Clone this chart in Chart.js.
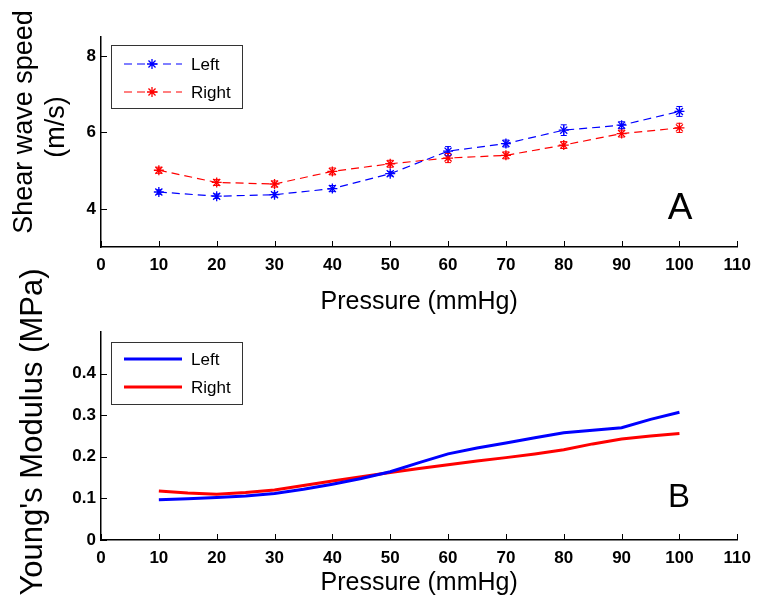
<!DOCTYPE html>
<html>
<head>
<meta charset="utf-8">
<script src="https://cdn.jsdelivr.net/npm/chart.js@4.4.4/dist/chart.umd.min.js"></script>
<style>
  html, body { margin: 0; padding: 0; background: #fff; }
  body { width: 759px; height: 604px; position: relative; overflow: hidden; }
  canvas { position: absolute; left: 0; }
  #chartA { top: 0; }
  #chartB { top: 260px; }
</style>
</head>
<body>
<canvas id="chartA" width="759" height="320"></canvas>
<canvas id="chartB" width="759" height="344"></canvas>
<script>
// panel A: shear wave speed (m/s) with error bars
const pressure = [10, 20, 30, 40, 50, 60, 70, 80, 90, 100]
const speedLeft = [4.44, 4.33, 4.37, 4.53, 4.92, 5.51, 5.71, 6.06, 6.19, 6.55]
const speedRight = [5.01, 4.69, 4.65, 4.98, 5.18, 5.33, 5.40, 5.67, 5.97, 6.12]
const speedLeftErr = [0.06, 0.06, 0.06, 0.08, 0.06, 0.12, 0.09, 0.14, 0.09, 0.13]
const speedRightErr = [0.08, 0.08, 0.08, 0.09, 0.09, 0.12, 0.09, 0.09, 0.09, 0.12]

// panel B: Young's modulus (MPa)
const modulusPressure = [10, 15, 20, 25, 30, 35, 40, 45, 50, 55, 60, 65, 70, 75, 80, 85, 90, 95, 100]
const modulusLeft = [0.097, 0.099, 0.102, 0.106, 0.112, 0.122, 0.134, 0.148, 0.164, 0.186, 0.207, 0.221, 0.233, 0.246, 0.258, 0.264, 0.270, 0.290, 0.307]
const modulusRight = [0.118, 0.113, 0.110, 0.114, 0.120, 0.131, 0.142, 0.152, 0.162, 0.172, 0.181, 0.190, 0.198, 0.207, 0.217, 0.231, 0.243, 0.250, 0.256]

const xTicks = [0, 10, 20, 30, 40, 50, 60, 70, 80, 90, 100, 110]
const speedTicks = [4, 6, 8]
const modulusTicks = [0, 0.1, 0.2, 0.3, 0.4]

const FONT = "'Liberation Sans', Arial, sans-serif"

const toPoints = (xs, ys) => xs.map((x, i) => ({ x: x, y: ys[i] }))

// small tick marks pointing into the plot
const inwardTicks = {
    id: 'inwardTicks',
    afterDraw(chart) {
        const { ctx, chartArea, scales } = chart
        ctx.save()
        ctx.strokeStyle = '#000'
        ctx.lineWidth = 1
        ctx.beginPath()
        scales.x.ticks.forEach(t => {
            const px = Math.round(scales.x.getPixelForValue(t.value)) + 0.5
            ctx.moveTo(px, chartArea.bottom)
            ctx.lineTo(px, chartArea.bottom - 6)
        })
        scales.y.ticks.forEach(t => {
            const py = Math.round(scales.y.getPixelForValue(t.value)) + 0.5
            ctx.moveTo(chartArea.left, py)
            ctx.lineTo(chartArea.left + 6, py)
        })
        ctx.stroke()
        ctx.restore()
    }
}

const errorBars = {
    id: 'errorBars',
    afterDatasetsDraw(chart) {
        const { ctx, scales } = chart
        chart.data.datasets.forEach(ds => {
            if (!ds.errors) return
            ctx.save()
            ctx.strokeStyle = ds.borderColor
            ctx.lineWidth = 1
            ctx.beginPath()
            ds.data.forEach((p, i) => {
                const px = scales.x.getPixelForValue(p.x)
                const top = scales.y.getPixelForValue(p.y + ds.errors[i])
                const bot = scales.y.getPixelForValue(p.y - ds.errors[i])
                ctx.moveTo(px, top); ctx.lineTo(px, bot)
                ctx.moveTo(px - 3, top); ctx.lineTo(px + 3, top)
                ctx.moveTo(px - 3, bot); ctx.lineTo(px + 3, bot)
            })
            ctx.stroke()
            ctx.restore()
        })
    }
}

// boxed legend in the upper left + rotated axis titles + panel letter
const panelDecor = {
    id: 'panelDecor',
    afterDraw(chart, args, opts) {
        const ctx = chart.ctx
        ctx.save()
        ctx.fillStyle = '#000'
        ctx.textBaseline = 'middle'

        opts.yTitle.forEach(t => {
            ctx.save()
            ctx.translate(t.x, t.y)
            ctx.rotate(-Math.PI / 2)
            ctx.textAlign = 'center'
            ctx.font = t.size + 'px ' + FONT
            ctx.fillText(t.text, 0, 0)
            ctx.restore()
        })

        ctx.textAlign = 'center'
        ctx.font = opts.letter.size + 'px ' + FONT
        ctx.fillText(opts.letter.text, opts.letter.x, opts.letter.y)

        const lg = opts.legend
        ctx.strokeStyle = '#333'
        ctx.lineWidth = 1
        ctx.strokeRect(lg.left + 0.5, lg.top + 0.5, lg.width, lg.height)
        ctx.font = '17px ' + FONT
        ctx.textAlign = 'left'
        chart.data.datasets.forEach((ds, i) => {
            const y = lg.rows[i]
            ctx.strokeStyle = ds.borderColor
            ctx.lineWidth = ds.borderWidth
            ctx.setLineDash(ds.borderDash || [])
            ctx.beginPath()
            ctx.moveTo(lg.left + 13, y)
            ctx.lineTo(lg.left + 71, y)
            ctx.stroke()
            ctx.setLineDash([])
            if (ds.pointRadius > 0) {
                ctx.lineWidth = ds.pointBorderWidth
                Chart.helpers.drawPoint(ctx, { pointStyle: ds.pointStyle, radius: ds.pointRadius, borderWidth: ds.pointBorderWidth, rotation: 0 }, lg.left + 41, y)
            }
            ctx.fillStyle = '#000'
            ctx.fillText(ds.label, lg.left + 80, y + 1)
        })
        ctx.restore()
    }
}

function scalesFor(yMin, yMax, yTicks, xHeight, titlePad, yLabel) {
    return {
        x: {
            type: 'linear',
            min: 0,
            max: 110,
            afterBuildTicks: s => { s.ticks = xTicks.map(v => ({ value: v })) },
            afterFit: s => { s.height = xHeight },
            border: { display: true, color: '#000', width: 1.5 },
            grid: { drawOnChartArea: false, drawTicks: false },
            ticks: { color: '#000', padding: 8, font: { family: FONT, size: 17, weight: 'bold' } },
            title: {
                display: true,
                text: 'Pressure (mmHg)',
                color: '#000',
                font: { family: FONT, size: 25 },
                padding: { top: 0, bottom: titlePad }
            }
        },
        y: {
            min: yMin,
            max: yMax,
            afterBuildTicks: s => { s.ticks = yTicks.map(v => ({ value: v })) },
            afterFit: s => { s.width = 101 },
            border: { display: true, color: '#000', width: 1.5 },
            grid: { drawOnChartArea: false, drawTicks: false },
            ticks: { color: '#000', padding: 5, font: { family: FONT, size: 17, weight: 'bold' }, callback: yLabel }
        }
    }
}

new Chart(document.getElementById('chartA'), {
    type: 'line',
    data: {
        datasets: [
            {
                label: 'Left',
                data: toPoints(pressure, speedLeft),
                errors: speedLeftErr,
                borderColor: '#0000ff',
                borderWidth: 1.2,
                borderDash: [8, 5],
                pointStyle: 'star',
                pointRadius: 5,
                pointBorderWidth: 1.3,
                pointBorderColor: '#0000ff',
                fill: false
            },
            {
                label: 'Right',
                data: toPoints(pressure, speedRight),
                errors: speedRightErr,
                borderColor: '#ff0000',
                borderWidth: 1.2,
                borderDash: [8, 5],
                pointStyle: 'star',
                pointRadius: 5,
                pointBorderWidth: 1.3,
                pointBorderColor: '#ff0000',
                fill: false
            }
        ]
    },
    options: {
        responsive: false,
        animation: false,
        layout: { padding: { top: 37, right: 16, bottom: 0, left: 0 } },
        scales: scalesFor(3, 8.5, speedTicks, 73, 3, v => String(v)),
        plugins: {
            legend: { display: false },
            tooltip: { enabled: false },
            panelDecor: {
                yTitle: [
                    { text: 'Shear wave speed', x: 25, y: 122, size: 27 },
                    { text: '(m/s)', x: 57, y: 127, size: 27 }
                ],
                letter: { text: 'A', x: 680, y: 209, size: 37 },
                legend: { left: 111, top: 45, width: 131, height: 63, rows: [64, 92] }
            }
        }
    },
    plugins: [errorBars, inwardTicks, panelDecor]
})

new Chart(document.getElementById('chartB'), {
    type: 'line',
    data: {
        datasets: [
            {
                label: 'Left',
                data: toPoints(modulusPressure, modulusLeft),
                borderColor: '#0000ff',
                borderWidth: 3,
                pointRadius: 0,
                fill: false
            },
            {
                label: 'Right',
                data: toPoints(modulusPressure, modulusRight),
                borderColor: '#ff0000',
                borderWidth: 3,
                pointRadius: 0,
                fill: false
            }
        ]
    },
    options: {
        responsive: false,
        animation: false,
        layout: { padding: { top: 72, right: 16, bottom: 0, left: 0 } },
        scales: scalesFor(0, 0.5, modulusTicks, 64, 6, v => String(v)),
        plugins: {
            legend: { display: false },
            tooltip: { enabled: false },
            panelDecor: {
                yTitle: [
                    { text: "Young's Modulus (MPa)", x: 33, y: 172, size: 31 }
                ],
                letter: { text: 'B', x: 679, y: 238, size: 33 },
                legend: { left: 111, top: 82, width: 131, height: 62, rows: [99, 127] }
            }
        }
    },
    plugins: [inwardTicks, panelDecor]
})
</script>
</body>
</html>
